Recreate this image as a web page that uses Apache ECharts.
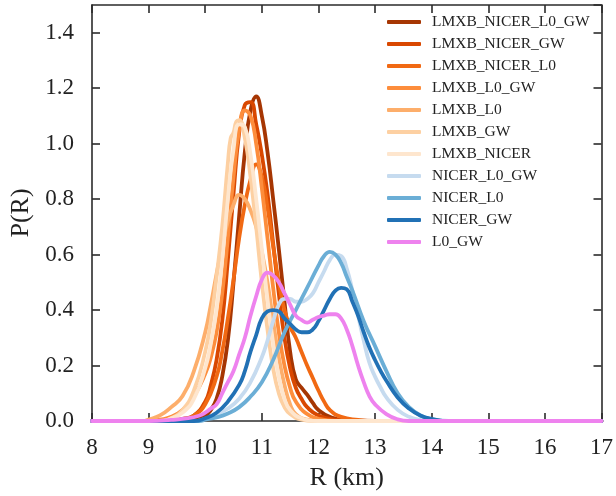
<!DOCTYPE html>
<html>
<head>
<meta charset="utf-8">
<script src="https://cdn.jsdelivr.net/npm/echarts@6/dist/echarts.min.js"></script>
<style>html,body{margin:0;padding:0;background:#fff;overflow:hidden}#c{width:616px;height:496px}</style>
</head>
<body>
<div id="c"></div>
<script>
// Series names (legend order)
const seriesNames = ['LMXB_NICER_L0_GW','LMXB_NICER_GW','LMXB_NICER_L0','LMXB_L0_GW','LMXB_L0','LMXB_GW','LMXB_NICER','NICER_L0_GW','NICER_L0','NICER_GW','L0_GW'];
const seriesColors = ['#a63603','#d94801','#f16913','#fd8d3c','#fdae6b','#fdd0a2','#fee6ce','#c6dbef','#6baed6','#2171b5','#ee82ee'];

// [R (km), P(R)]
const LMXB_NICER_L0_GW = [[8,0],[9.6,0],[9.8,0.005],[10.0,0.02],[10.1,0.04],[10.2,0.08],[10.3,0.16],[10.4,0.29],[10.5,0.5],[10.6,0.74],[10.7,0.97],[10.8,1.12],[10.9,1.17],[11.0,1.1],[11.1,0.97],[11.2,0.8],[11.3,0.62],[11.4,0.43],[11.5,0.25],[11.6,0.15],[11.7,0.12],[11.8,0.095],[11.9,0.065],[12.0,0.04],[12.2,0.015],[12.5,0.003],[13.0,0],[17,0]];
const LMXB_NICER_GW = [[8,0],[9.4,0],[9.6,0.008],[9.8,0.02],[10.0,0.07],[10.1,0.13],[10.2,0.22],[10.3,0.36],[10.4,0.58],[10.5,0.82],[10.6,1.04],[10.7,1.14],[10.8,1.15],[10.9,1.07],[11.0,0.96],[11.1,0.82],[11.2,0.64],[11.3,0.46],[11.4,0.3],[11.5,0.19],[11.6,0.12],[11.7,0.08],[11.8,0.05],[12.0,0.02],[12.3,0.005],[12.6,0],[17,0]];
const LMXB_NICER_L0 = [[8,0],[9.4,0],[9.6,0.005],[9.8,0.02],[10.0,0.06],[10.2,0.16],[10.3,0.25],[10.4,0.37],[10.5,0.51],[10.6,0.66],[10.7,0.78],[10.8,0.87],[10.9,0.925],[11.0,0.88],[11.1,0.77],[11.2,0.63],[11.3,0.5],[11.4,0.4],[11.5,0.34],[11.6,0.3],[11.7,0.25],[11.8,0.2],[11.9,0.155],[12.0,0.11],[12.1,0.07],[12.2,0.04],[12.4,0.015],[12.7,0.004],[13.0,0],[17,0]];
const LMXB_L0_GW = [[8,0],[9.0,0],[9.2,0.005],[9.4,0.015],[9.6,0.04],[9.8,0.09],[10.0,0.17],[10.1,0.23],[10.2,0.32],[10.3,0.46],[10.4,0.66],[10.5,0.88],[10.6,1.05],[10.7,1.12],[10.8,1.1],[10.9,1.0],[11.0,0.84],[11.1,0.66],[11.2,0.48],[11.3,0.32],[11.4,0.2],[11.5,0.12],[11.6,0.07],[11.8,0.025],[12.0,0.008],[12.3,0],[17,0]];
const LMXB_L0 = [[8,0],[8.9,0],[9.0,0.005],[9.2,0.02],[9.4,0.05],[9.6,0.09],[9.8,0.18],[10.0,0.32],[10.1,0.42],[10.2,0.53],[10.3,0.63],[10.4,0.72],[10.5,0.78],[10.6,0.815],[10.7,0.8],[10.8,0.76],[10.9,0.7],[11.0,0.61],[11.1,0.5],[11.2,0.36],[11.3,0.23],[11.4,0.13],[11.5,0.06],[11.6,0.025],[11.8,0.005],[12.0,0],[17,0]];
const LMXB_GW = [[8,0],[9.2,0],[9.4,0.01],[9.6,0.04],[9.8,0.11],[10.0,0.25],[10.1,0.36],[10.2,0.52],[10.3,0.7],[10.4,0.93],[10.45,1.02],[10.5,1.04],[10.55,1.08],[10.6,1.085],[10.7,1.02],[10.8,0.88],[10.9,0.7],[11.0,0.5],[11.1,0.33],[11.2,0.19],[11.3,0.1],[11.4,0.05],[11.5,0.025],[11.7,0.005],[11.9,0],[17,0]];
const LMXB_NICER = [[8,0],[9.2,0],[9.4,0.01],[9.6,0.03],[9.8,0.08],[10.0,0.19],[10.1,0.28],[10.2,0.4],[10.3,0.58],[10.4,0.8],[10.5,0.98],[10.6,1.07],[10.7,1.06],[10.8,0.96],[10.9,0.8],[11.0,0.62],[11.1,0.44],[11.2,0.28],[11.3,0.16],[11.4,0.08],[11.5,0.04],[11.7,0.01],[12.0,0],[17,0]];
const NICER_L0_GW = [[8,0],[9.8,0],[10.0,0.008],[10.2,0.025],[10.4,0.045],[10.6,0.08],[10.8,0.14],[11.0,0.23],[11.1,0.29],[11.2,0.36],[11.3,0.42],[11.4,0.44],[11.5,0.44],[11.6,0.43],[11.7,0.43],[11.8,0.44],[11.9,0.46],[12.0,0.5],[12.1,0.54],[12.2,0.58],[12.3,0.6],[12.4,0.595],[12.5,0.55],[12.6,0.47],[12.7,0.38],[12.8,0.29],[12.9,0.21],[13.0,0.16],[13.1,0.12],[13.2,0.085],[13.4,0.04],[13.6,0.015],[13.8,0.004],[14.0,0],[17,0]];
const NICER_L0 = [[8,0],[9.9,0],[10.0,0.005],[10.2,0.013],[10.4,0.027],[10.6,0.05],[10.8,0.088],[11.0,0.14],[11.2,0.22],[11.4,0.32],[11.6,0.4],[11.8,0.48],[12.0,0.56],[12.1,0.595],[12.2,0.61],[12.3,0.6],[12.4,0.57],[12.5,0.52],[12.6,0.47],[12.8,0.36],[13.0,0.27],[13.2,0.18],[13.4,0.1],[13.6,0.05],[13.8,0.02],[14.0,0.006],[14.3,0],[17,0]];
const NICER_GW = [[8,0],[9.8,0],[10.0,0.01],[10.2,0.03],[10.4,0.07],[10.6,0.13],[10.7,0.18],[10.8,0.25],[10.9,0.31],[11.0,0.37],[11.1,0.395],[11.2,0.4],[11.3,0.395],[11.4,0.37],[11.5,0.35],[11.6,0.33],[11.7,0.32],[11.8,0.32],[11.9,0.33],[12.0,0.36],[12.1,0.4],[12.2,0.44],[12.3,0.47],[12.4,0.48],[12.5,0.475],[12.6,0.43],[12.7,0.38],[12.8,0.32],[12.9,0.265],[13.0,0.22],[13.1,0.18],[13.2,0.145],[13.4,0.085],[13.6,0.045],[13.8,0.02],[14.0,0.008],[14.3,0],[17,0]];
const L0_GW = [[8,0],[9.0,0],[9.4,0.004],[9.7,0.01],[9.9,0.02],[10.0,0.03],[10.1,0.045],[10.2,0.06],[10.3,0.1],[10.4,0.14],[10.5,0.18],[10.6,0.24],[10.7,0.3],[10.8,0.38],[10.9,0.45],[11.0,0.51],[11.1,0.535],[11.2,0.525],[11.3,0.5],[11.4,0.46],[11.5,0.42],[11.6,0.38],[11.7,0.365],[11.8,0.355],[11.9,0.365],[12.0,0.375],[12.1,0.38],[12.2,0.385],[12.3,0.385],[12.4,0.37],[12.5,0.33],[12.6,0.27],[12.7,0.2],[12.8,0.14],[12.9,0.09],[13.0,0.06],[13.2,0.025],[13.4,0.006],[13.6,0],[17,0]];

const seriesData = [LMXB_NICER_L0_GW, LMXB_NICER_GW, LMXB_NICER_L0, LMXB_L0_GW, LMXB_L0, LMXB_GW, LMXB_NICER, NICER_L0_GW, NICER_L0, NICER_GW, L0_GW];

const xMin = 8, xMax = 17, xStep = 1;
const yMin = 0, yMax = 1.5, yStep = 0.2;
const xTitle = 'R (km)';
const yTitle = 'P(R)';

const FONT = '"Liberation Serif", "DejaVu Serif", serif';
const AX = '#2b2b2b';

const chart = echarts.init(document.getElementById('c'), null, {renderer: 'canvas'});

const baseAxis = {
  axisLine: {show: true, onZero: false, lineStyle: {color: AX, width: 1.6}},
  axisTick: {show: true, inside: true, length: 8, lineStyle: {color: AX, width: 1.6}},
  splitLine: {show: false}
};

chart.setOption({
  animation: false,
  backgroundColor: '#fff',
  grid: {left: 91, right: 12, top: 5, bottom: 69, containLabel: false},
  legend: {
    data: seriesNames,
    orient: 'vertical',
    left: 387,
    top: 14,
    padding: 0,
    icon: 'roundRect',
    itemWidth: 34,
    itemHeight: 4,
    itemGap: 6,
    textStyle: {fontFamily: FONT, fontSize: 15.5, color: '#222', lineHeight: 16, padding: [0, 0, 0, 6]}
  },
  xAxis: [
    Object.assign({}, baseAxis, {
      type: 'value', min: xMin, max: xMax, interval: xStep, position: 'bottom',
      name: xTitle, nameLocation: 'middle', nameGap: 44,
      nameTextStyle: {fontFamily: FONT, fontSize: 26, color: '#222'},
      axisLabel: {fontFamily: FONT, fontSize: 23, color: '#222', margin: 15}
    }),
    Object.assign({}, baseAxis, {
      type: 'value', min: xMin, max: xMax, interval: xStep, position: 'top',
      axisLabel: {show: false}
    })
  ],
  yAxis: [
    Object.assign({}, baseAxis, {
      type: 'value', min: yMin, max: yMax, interval: yStep, position: 'left',
      name: yTitle, nameLocation: 'middle', nameGap: 58,
      nameTextStyle: {fontFamily: FONT, fontSize: 26, color: '#222'},
      axisLabel: {fontFamily: FONT, fontSize: 23, color: '#222', margin: 18, showMaxLabel: false,
        formatter: v => (v > 1.45 ? '' : v.toFixed(1))}
    }),
    Object.assign({}, baseAxis, {
      type: 'value', min: yMin, max: yMax, interval: yStep, position: 'right',
      axisLabel: {show: false}
    })
  ],
  series: seriesNames.map((name, i) => ({
    name: name,
    type: 'line',
    xAxisIndex: 0,
    yAxisIndex: 0,
    data: seriesData[i],
    showSymbol: false,
    smooth: 0.5,
    color: seriesColors[i],
    lineStyle: {width: 3.8, color: seriesColors[i], cap: 'round', join: 'round'},
    z: 2 + i
  }))
});
</script>
</body>
</html>
